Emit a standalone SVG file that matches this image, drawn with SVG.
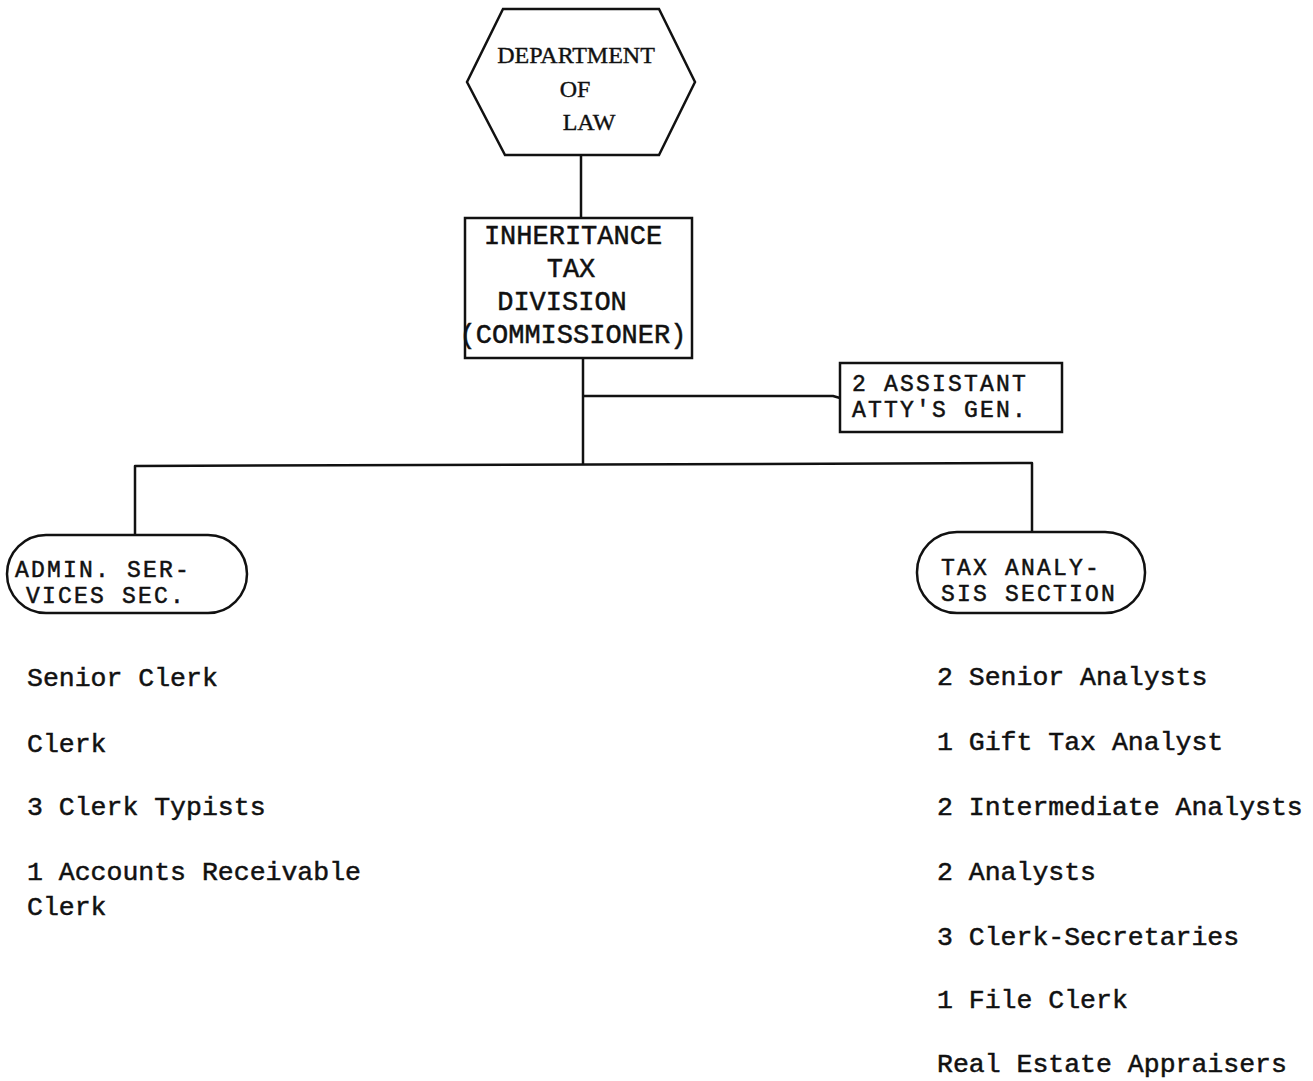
<svg xmlns="http://www.w3.org/2000/svg" width="1313" height="1081" viewBox="0 0 1313 1081">
  <style>
    .shape { fill: #ffffff; stroke: #111111; stroke-width: 2.5; }
    .wire { fill: none; stroke: #111111; stroke-width: 2.5; stroke-linejoin: round; }
    .serif { font-family: "Liberation Serif", "Times New Roman", serif; font-size: 24px; fill: #111111; stroke: #111111; stroke-width: 0.4; }
    .type { font-family: "Liberation Mono", "Courier New", monospace; font-size: 27px; fill: #111111; stroke: #111111; stroke-width: 0.5; }
    .tight { font-family: "Liberation Mono", "Courier New", monospace; font-size: 23px; letter-spacing: 2.2px; fill: #111111; stroke: #111111; stroke-width: 0.5; }
    .list { font-family: "Liberation Mono", "Courier New", monospace; font-size: 26.5px; fill: #111111; stroke: #111111; stroke-width: 0.5; }
  </style>
  <rect width="1313" height="1081" fill="#ffffff"/>

  <!-- connectors -->
  <g id="connectors">
    <line class="wire" x1="581" y1="156" x2="581" y2="218"/>
    <line class="wire" x1="583" y1="358" x2="583" y2="465"/>
    <polyline class="wire" points="583,396 833,396 840,398"/>
    <polyline class="wire" points="135,534 135,466 1032,463 1032,532"/>
  </g>

  <!-- top: department -->
  <g id="department-of-law">
    <polygon class="shape" points="503,9 659,9 695,82 659,155 505,155 467,82"/>
    <text class="serif" x="576" y="63" text-anchor="middle">DEPARTMENT</text>
    <text class="serif" x="575" y="97" text-anchor="middle">OF</text>
    <text class="serif" x="589" y="130" text-anchor="middle">LAW</text>
  </g>

  <!-- division box -->
  <g id="inheritance-tax-division">
    <rect class="shape" x="465" y="218" width="227" height="140"/>
    <text class="type" x="573" y="244" text-anchor="middle">INHERITANCE</text>
    <text class="type" x="571" y="277" text-anchor="middle">TAX</text>
    <text class="type" x="562" y="310" text-anchor="middle">DIVISION</text>
    <text class="type" x="573" y="343" text-anchor="middle">(COMMISSIONER)</text>
  </g>

  <!-- staff box -->
  <g id="assistant-attorneys">
    <rect class="shape" x="840" y="363" width="222" height="69"/>
    <text class="tight" x="852" y="391">2 ASSISTANT</text>
    <text class="tight" x="852" y="417">ATTY'S GEN.</text>
  </g>

  <!-- sections -->
  <g id="admin-services">
    <rect class="shape" x="7" y="535" width="240" height="78" rx="39" ry="39"/>
    <text class="tight" x="15" y="577">ADMIN. SER-</text>
    <text class="tight" x="26" y="603">VICES SEC.</text>
  </g>

  <g id="tax-analysis">
    <rect class="shape" x="917" y="532" width="228" height="81" rx="40" ry="40"/>
    <text class="tight" x="941" y="575">TAX ANALY-</text>
    <text class="tight" x="941" y="601">SIS SECTION</text>
  </g>

  <!-- staff listings -->
  <g id="admin-staff">
    <text class="list" x="27" y="686">Senior Clerk</text>
    <text class="list" x="27" y="752">Clerk</text>
    <text class="list" x="27" y="815">3 Clerk Typists</text>
    <text class="list" x="27" y="880">1 Accounts Receivable</text>
    <text class="list" x="27" y="915">Clerk</text>
  </g>

  <g id="tax-staff">
    <text class="list" x="937" y="685">2 Senior Analysts</text>
    <text class="list" x="937" y="750">1 Gift Tax Analyst</text>
    <text class="list" x="937" y="815">2 Intermediate Analysts</text>
    <text class="list" x="937" y="880">2 Analysts</text>
    <text class="list" x="937" y="945">3 Clerk-Secretaries</text>
    <text class="list" x="937" y="1008">1 File Clerk</text>
    <text class="list" x="937" y="1072">Real Estate Appraisers</text>
  </g>
</svg>
